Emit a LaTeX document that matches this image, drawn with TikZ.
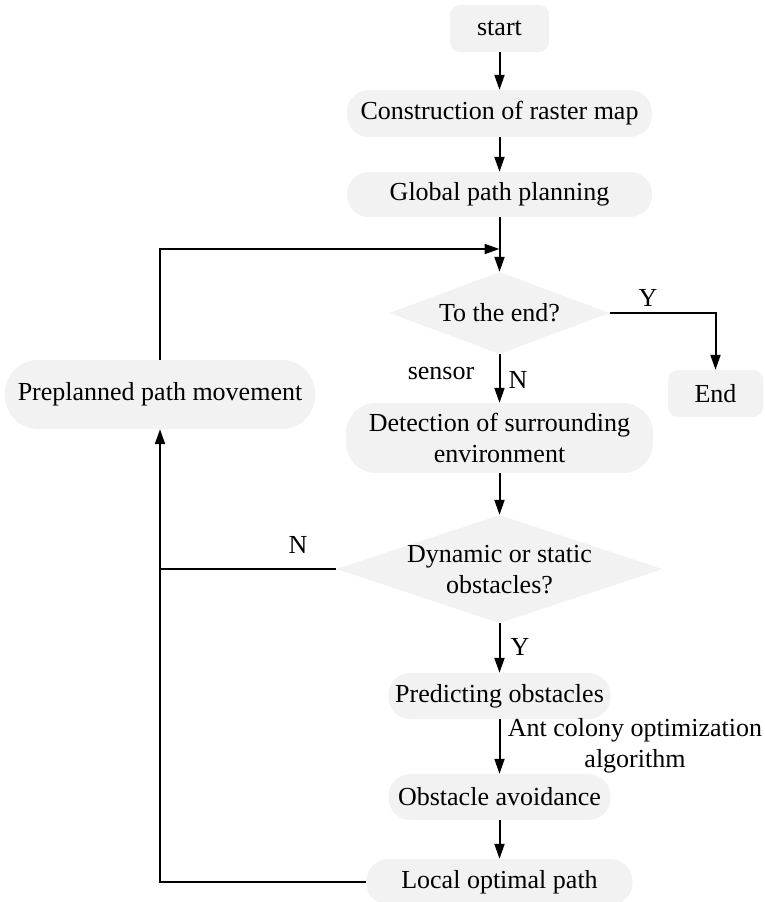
\documentclass[tikz,border=0pt]{standalone}
\usepackage{fontspec}
\setmainfont{Liberation Serif}
\usetikzlibrary{arrows.meta,shapes.geometric}
\definecolor{boxfill}{RGB}{242,242,242}
\begin{document}
\begin{tikzpicture}[x=1pt,y=-1pt,
  font=\fontsize{26}{31}\selectfont,
  box/.style={fill=boxfill,draw=none,inner sep=0pt,minimum width=#1,align=center},
  dia/.style={shape=diamond,fill=boxfill,draw=none,inner sep=0pt},
  lbl/.style={inner sep=0pt,align=center},
  conn/.style={line width=2pt,-{Triangle[length=15pt,width=10pt]}},
  plain/.style={line width=2pt}]
\clip (0,0) rectangle (765,902);
\node[box=99pt,minimum height=47pt,rounded corners=10pt] (start) at (499.5,28.5) {start};
\node[box=305pt,minimum height=47pt,rounded corners=22pt] (cons) at (499.5,113.5) {Construction of raster map};
\node[box=305pt,minimum height=45pt,rounded corners=22pt] (glob) at (499.5,194.5) {Global path planning};
\node[dia,minimum width=220pt,minimum height=82pt] (d1) at (499.5,313) {};
\node[lbl] (d1t) at (499.5,313) {To the end?};
\node[box=310pt,minimum height=69pt,rounded corners=33pt] (prep) at (160,394.5) {Preplanned path movement};
\node[box=95pt,minimum height=47pt,rounded corners=10pt] (endn) at (715.5,393.5) {End};
\node[box=307pt,minimum height=70pt,rounded corners=30pt] (det) at (499.5,438) {Detection of surrounding\\environment};
\node[dia,minimum width=326pt,minimum height=108pt] (d2) at (499.5,569) {};
\node[lbl] (d2t) at (499.5,570) {Dynamic or static\\obstacles?};
\node[box=222pt,minimum height=46pt,rounded corners=22pt] (pred) at (499.5,696) {Predicting obstacles};
\node[box=222pt,minimum height=46pt,rounded corners=22pt] (obst) at (499.5,797) {Obstacle avoidance};
\node[box=266pt,minimum height=46pt,rounded corners=22pt] (local) at (499.5,882) {Local optimal path};
% labels
\node[lbl] (ly1) at (648,298) {Y};
\node[lbl] (lsens) at (441,373) {sensor};
\node[lbl] (ln1) at (518,380) {N};
\node[lbl] (ln2) at (298,545) {N};
\node[lbl] (ly2) at (520,647) {Y};
\node[lbl] (laco) at (635,746) {Ant colony optimization\\algorithm};
% junctions
\coordinate (j1) at (499.5,249);
\coordinate (j2) at (160,569);
% connectors
\draw[conn] (start.south) -- (cons.north);
\draw[conn] (cons.south) -- (glob.north);
\draw[conn] (glob.south) -- (d1.north);
\draw[conn] (prep.north) |- (j1);
\draw[conn] (d1.east) -| (endn.north);
\draw[conn] (d1.south) -- (det.north);
\draw[conn] (det.south) -- (d2.north);
\draw[plain] (d2.west) -- (j2);
\draw[conn] (d2.south) -- (pred.north);
\draw[conn] (pred.south) -- (obst.north);
\draw[conn] (obst.south) -- (local.north);
\draw[conn] (local.west) -| (prep.south);
\end{tikzpicture}
\end{document}
